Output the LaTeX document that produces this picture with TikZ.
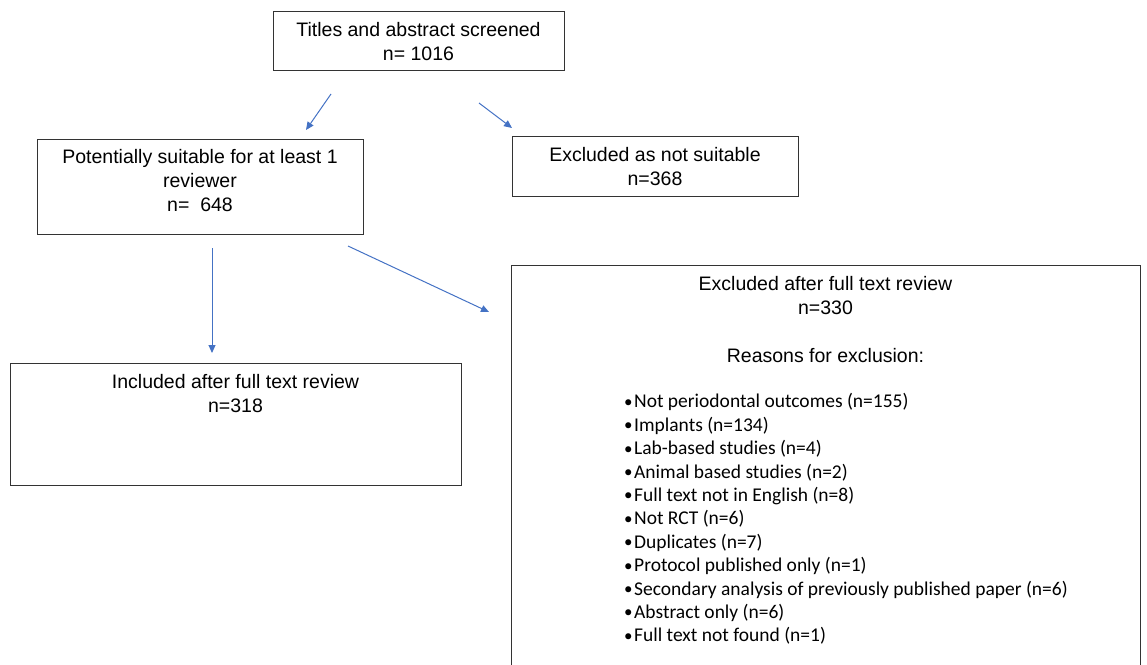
\documentclass[tikz,border=0pt]{standalone}
\usepackage{fontspec}
\setmainfont{Liberation Sans}
\newfontfamily\calibrifont{Carlito}
\usetikzlibrary{arrows.meta}
\definecolor{arrowblue}{HTML}{4472C4}
\definecolor{boxline}{HTML}{333333}
\newcommand\mybul{\raisebox{0.6pt}{\fontsize{17}{17}\selectfont•}\kern1.5pt}
\begin{document}
\begin{tikzpicture}[x=1pt,y=-1pt,
  box/.style={draw=boxline, line width=1pt, anchor=north west, inner sep=0pt},
  txt/.style={font=\fontsize{19.5}{24}\selectfont, align=center, inner sep=0pt, anchor=north,
    execute at begin node=\strut, execute at end node=\strut},
  listtxt/.style={font=\calibrifont\fontsize{19.5}{23.4}\selectfont, align=left, inner sep=0pt, anchor=north west,
    execute at begin node=\strut, execute at end node=\strut},
  arr/.style={draw=arrowblue, line width=1pt, -{Triangle[length=8pt,width=7pt]}}]
\useasboundingbox (0,0) rectangle (1147,664);
% boxes
\node[box, minimum width=291pt, minimum height=59pt] (topbox) at (273,11) {};
\node[box, minimum width=326pt, minimum height=95pt] (potbox) at (37,139) {};
\node[box, minimum width=286pt, minimum height=60pt] (exclbox) at (512,136) {};
\node[box, minimum width=451pt, minimum height=122pt] (inclbox) at (10,363) {};
\node[box, minimum width=629pt, minimum height=440pt] (fullbox) at (511,265) {};
% texts
\node[txt] (toptxt) at (418.5,22.2) {Titles and abstract screened\\n= 1016};
\node[txt] (pottxt) at (200,149.5) {Potentially suitable for at least 1\\reviewer\\n=~~648};
\node[txt] (excltxt) at (655,147) {Excluded as not suitable\\n=368};
\node[txt] (incltxt) at (235.5,374) {Included after full text review\\n=318};
\node[txt] (fulltxt) at (825.5,276) {Excluded after full text review\\n=330\\[24pt]Reasons for exclusion:};
\node[listtxt] (reasons) at (624,393.5) {\mybul Not periodontal outcomes (n=155)\\
\mybul Implants (n=134)\\
\mybul Lab-based studies (n=4)\\
\mybul Animal based studies (n=2)\\
\mybul Full text not in English (n=8)\\
\mybul Not RCT (n=6)\\
\mybul Duplicates (n=7)\\
\mybul Protocol published only (n=1)\\
\mybul Secondary analysis of previously published paper (n=6)\\
\mybul Abstract only (n=6)\\
\mybul Full text not found (n=1)};
% arrows
\coordinate (a1s) at (331,94);  \coordinate (a1e) at (306,130);
\coordinate (a2s) at (479,103); \coordinate (a2e) at (512,128);
\coordinate (a3s) at (212,248); \coordinate (a3e) at (212,353);
\coordinate (a4s) at (348,246); \coordinate (a4e) at (489,312);
\draw[arr] (a1s) -- (a1e);
\draw[arr] (a2s) -- (a2e);
\draw[arr] (a3s) -- (a3e);
\draw[arr] (a4s) -- (a4e);
\end{tikzpicture}
\end{document}
